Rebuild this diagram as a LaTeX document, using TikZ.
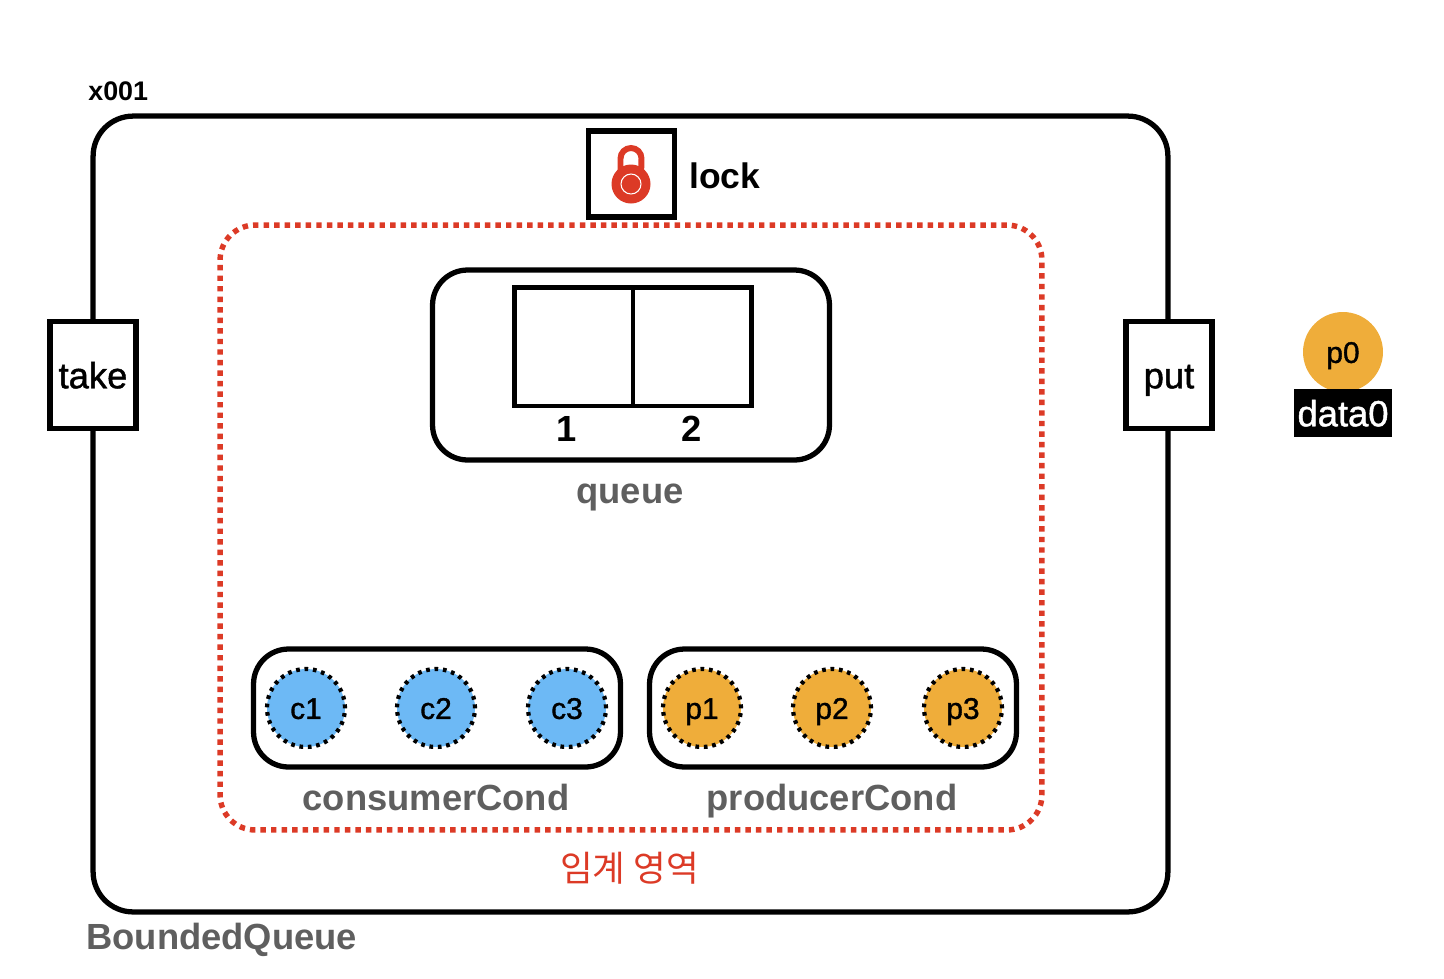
\documentclass[tikz,border=0pt]{standalone}
\usepackage{fontspec}
\setmainfont{Liberation Sans}
\newfontfamily\cjk{Noto Sans CJK KR}
\newfontfamily\midfont[FakeBold=1.2]{Liberation Sans}
\usepackage{xcolor}
\usetikzlibrary{positioning}
\definecolor{lockred}{HTML}{DC3A26}
\definecolor{condblue}{HTML}{6DB9F5}
\definecolor{condorange}{HTML}{EFAD3A}
\definecolor{labelgray}{HTML}{5F5F5F}
\newcommand{\bigtext}{\fontsize{20.7}{24}\selectfont}
\newcommand{\smalltext}{\fontsize{17}{20}\selectfont}
\tikzset{
    frame/.style={draw, line width=3pt, rounded corners=#1, inner sep=0pt, fill=white},
    method/.style={draw, line width=3pt, fill=white, minimum width=1.72cm, minimum height=2.14cm, inner sep=0pt, font=\midfont\bigtext, text height=15.1pt, text depth=0pt},
    cell/.style={draw, line width=2.83pt, fill=white, minimum size=2.38cm, inner sep=0pt},
    waiter/.style={circle, fill=#1, draw=black, line width=2.4pt, dash pattern=on 2.1pt off 2.7pt, minimum size=1.56cm, inner sep=0pt, font=\midfont\smalltext, text height=12.4pt, text depth=0pt},
    grayname/.style={text=labelgray, font=\bigtext\bfseries, inner sep=0pt, text height=15.1pt, text depth=0pt},
}
\begin{document}
\begin{tikzpicture}[x=0.02cm, y=-0.02cm]
    \useasboundingbox (0, 0) rectangle (1444, 978);

    % Outer object
    \node[frame=0.8cm, minimum width=21.5cm, minimum height=15.92cm] (bounded) at (630.5, 514) {};
    \node[font=\fontsize{15.3}{18}\selectfont\bfseries, inner sep=0pt, anchor=west] (addr) at (88, 91) {x001};
    \node[grayname, anchor=west] (boundedname) at (86, 936) {BoundedQueue};

    % Critical section
    \node[draw=lockred, line width=3.1pt, dash pattern=on 3.1pt off 2.9pt, rounded corners=0.7cm, minimum width=16.44cm, minimum height=12.1cm, inner sep=0pt] (critical) at (631, 527.5) {};
    \node[text=lockred, font=\cjk\fontsize{20.2}{24}\selectfont, inner sep=0pt] (criticalname) at (629.5, 868) {임계 영역};

    % Lock
    \node[draw, line width=3pt, fill=white, minimum size=1.72cm, inner sep=0pt] (lockbox) at (631.5, 174) {};
    \node[font=\fontsize{20.2}{24}\selectfont\bfseries, inner sep=0pt, anchor=west] (lockname) at (689, 176) {lock};
    \draw[lockred, line width=3.4pt] (620.5, 178) -- (620.5, 158.5) arc[start angle=180, end angle=0, radius=0.21cm] -- (641, 178);
    \fill[lockred] (631, 184) circle[radius=0.39cm];
    \draw[white, line width=0.6pt] (631, 184) circle[radius=0.2cm];

    % Methods
    \node[method] (take) at (93, 375) {take};
    \node[method] (put) at (1169, 375) {put};

    % Queue
    \node[frame=0.7cm, minimum width=7.94cm, minimum height=3.8cm] (queue) at (631, 365) {};
    \node[cell] (slot1) at (573.5, 346.5) {};
    \node[cell, right=-2.83pt of slot1] (slot2) {};
    \node[font=\bigtext\bfseries, inner sep=0pt] (num1) at (567, 429) {1};
    \node[font=\bigtext\bfseries, inner sep=0pt] (num2) at (692, 429) {2};
    \node[grayname] (queuename) at (630, 490) {queue};

    % Condition queues
    \node[frame=0.7cm, minimum width=7.34cm, minimum height=2.36cm] (consumer) at (437, 708) {};
    \node[frame=0.7cm, minimum width=7.34cm, minimum height=2.36cm] (producer) at (833, 708) {};
    \foreach \i/\x in {1/306, 2/436, 3/567}{
        \node[waiter=condblue] (c\i) at (\x, 708) {c\i};
    }
    \foreach \i/\x in {1/702, 2/832, 3/963}{
        \node[waiter=condorange] (p\i) at (\x, 708) {p\i};
    }
    \node[grayname] (consumername) at (436, 797) {consumerCond};
    \node[grayname] (producername) at (832, 797) {producerCond};

    % Waiting producer
    \node[circle, fill=condorange, minimum size=1.6cm, inner sep=0pt, font=\midfont\smalltext, text height=12.4pt, text depth=0pt] (p0) at (1343, 352) {p0};
    \node[fill=black, text=white, minimum width=1.96cm, minimum height=0.96cm, inner sep=0pt, font=\midfont\bigtext, text height=15.1pt, text depth=0pt] (data0) at (1343, 413) {data0};
\end{tikzpicture}
\end{document}
